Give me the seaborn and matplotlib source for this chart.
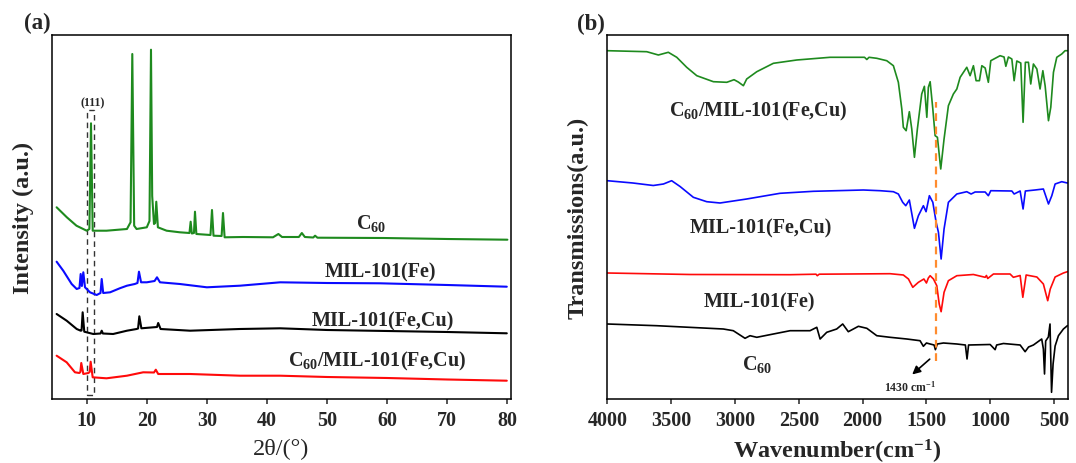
import matplotlib
matplotlib.use("Agg")
import matplotlib.pyplot as plt
import seaborn as sns
import pandas as pd
from matplotlib.patches import Rectangle

# ---------------- XRD data (panel a): 2theta, offset intensity ----------------
xrd_c60_x = [5.0, 6.7, 8.3, 10.0, 10.45, 10.72, 11.0, 13.3, 16.7, 17.3, 17.59, 17.9, 18.3, 20.0,
             20.45, 20.70, 20.9, 21.2, 21.4, 21.58, 21.85, 23.3, 25.5, 27.1, 27.3, 27.5, 27.85,
             28.02, 28.25, 30.6, 30.85, 31.1, 32.45, 32.68, 32.95, 36.0, 41.0, 41.9, 42.5, 45.3,
             45.8, 46.3, 47.7, 48.0, 48.4, 59.4, 70.0, 80.0]
xrd_c60_y = [191.7, 181.7, 173.3, 168.3, 170, 275.7, 168.3, 168.3, 170, 176.7, 345, 173.3, 170,
             171.7, 178, 349.3, 203, 175, 176, 197.3, 171.7, 168.3, 166.7, 166, 177.3, 165.5, 166,
             187.3, 165, 164, 189, 163.3, 163, 186, 161.7, 162, 161.7, 165, 162, 162, 166, 162,
             161.5, 163.3, 161.3, 161, 160, 159.3]

xrd_fe_x = [5.0, 6.1, 7.5, 8.34, 8.8, 9.0, 9.2, 9.44, 9.72, 10.55, 11.66, 12.3, 12.5, 12.75, 13.9,
            15.5, 16.7, 18.0, 18.45, 18.7, 19.05, 20.0, 21.3, 21.7, 22.2, 25.5, 30.0, 35.5, 42.2,
            50.0, 58.8, 70.0, 79.9]
xrd_fe_y = [137.3, 128.3, 115, 110, 111, 125, 113, 126.7, 111.7, 106.7, 104, 106, 120, 106, 106.7,
            110.7, 113.3, 115, 116, 127.3, 116.7, 116.7, 118, 121.7, 116.7, 115, 111.7, 113.3,
            116.7, 116, 115.7, 114, 112.3]

xrd_fecu_x = [5.0, 6.67, 8.34, 9.0, 9.15, 9.33, 9.6, 11.1, 12.3, 12.5, 12.7, 14.4, 16.7, 18.3,
              18.55, 18.76, 19.1, 21.1, 21.7, 21.9, 22.3, 27.2, 35.5, 42.2, 50.0, 60.0, 70.0, 79.9]
xrd_fecu_y = [85, 78.3, 70, 68.3, 68.5, 86.7, 67.3, 65, 65.5, 68.3, 65.5, 65, 68.3, 70, 70.5, 82.7,
              70.7, 71.7, 72, 76, 70, 68.3, 70, 70.7, 69, 68, 67, 65.7]

xrd_comp_x = [5.0, 6.67, 8.05, 8.78, 8.95, 9.1, 9.44, 10.28, 10.5, 10.66, 11.0, 13.3, 16.7, 19.4,
              21.2, 21.5, 21.9, 27.2, 35.5, 42.2, 50.0, 60.0, 70.0, 79.9]
xrd_comp_y = [43.3, 36.7, 26.7, 26, 27, 36, 25, 26, 27, 37.3, 21.7, 20.7, 23.3, 26.7, 26.5, 29.3,
              25, 25, 23.3, 23.3, 22, 21, 19.5, 18.3]

xrd_names = ["C$_{\\mathrm{60}}$", "MIL-101(Fe)", "MIL-101(Fe,Cu)",
             "C$_{\\mathrm{60}}$/MIL-101(Fe,Cu)"]
xrd_label_x = [57.3, 58.86, 59.3, 58.34]
xrd_label_y = [170.7, 122.7, 73.3, 33.3]

# ---------------- FTIR data (panel b): wavenumber, offset transmission ----------------
ir_comp_x = [4000, 3691, 3600, 3522, 3456, 3378, 3299, 3169, 3064, 3007, 2974, 2934, 2908, 2829,
             2699, 2516, 2255, 1985, 1967, 1950, 1889, 1811, 1759, 1720, 1693, 1681, 1659, 1634,
             1615, 1594, 1571, 1537, 1516, 1497, 1485, 1471, 1450, 1432, 1414, 1388, 1362, 1328,
             1289, 1262, 1236, 1184, 1158, 1132, 1111, 1085, 1066, 1040, 1015, 996, 923, 892, 878,
             858, 831, 813, 792, 761, 743, 725, 701, 683, 662, 635, 610, 588, 570, 544, 526, 505,
             479, 440, 414, 396]
ir_comp_y = [348.3, 347.3, 344, 346.7, 341.7, 331.7, 323.3, 317.3, 316.7, 319.3, 317, 313.3, 320,
             327.3, 335.7, 339, 341.7, 341.7, 339.5, 341.7, 340.7, 338.3, 333.3, 316.7, 290, 271.7,
             268.3, 287.3, 270, 241.7, 270, 305, 312.7, 281.7, 311.7, 317.3, 290, 263.3, 261.7,
             230, 260, 293.3, 305, 310, 321.7, 331.7, 323.3, 333.3, 318.3, 318.3, 333.3, 331,
             316.7, 338.3, 343.3, 342, 332.7, 342, 340, 318.3, 338, 336, 276.7, 336.7, 336.7, 315,
             335, 330, 310, 328.3, 313, 278.3, 291.7, 326.7, 341.7, 345, 348.3, 348.3]

ir_fecu_x = [4000, 3800, 3640, 3560, 3496, 3430, 3326, 3221, 3117, 2908, 2647, 2386, 1994, 1863,
             1759, 1720, 1686, 1662, 1634, 1594, 1563, 1524, 1503, 1477, 1450, 1424, 1406, 1385,
             1362, 1328, 1262, 1184, 1150, 1119, 1040, 1015, 996, 831, 813, 766, 743, 725, 650,
             584, 544, 518, 492, 440, 396]
ir_fecu_y = [218.3, 216, 213.5, 215, 218.3, 212.5, 201.7, 197.3, 196, 200, 205.7, 207.7, 209,
             208.3, 207.3, 205, 196.7, 193.3, 199, 170.7, 183.3, 193.3, 187.3, 203.3, 196.7,
             176.7, 166.7, 140, 170, 196.7, 205, 207.3, 205, 207, 207, 203.3, 208.3, 208, 205,
             208, 190, 208, 209, 210, 195, 203.3, 215, 217.3, 216]

ir_fe_x = [4000, 3352, 2568, 2365, 2355, 2340, 1785, 1681, 1641, 1607, 1563, 1520, 1500, 1485,
           1471, 1445, 1419, 1400, 1385, 1362, 1328, 1262, 1132, 1040, 1030, 1020, 975, 845, 819,
           766, 745, 719, 635, 584, 550, 530, 492, 427, 396]
ir_fe_y = [126, 124.5, 124.3, 124.8, 123.3, 124.8, 125.3, 124, 120, 111.7, 116.7, 120, 116, 121,
           123.3, 120, 113.3, 95, 87.3, 106.7, 118.3, 123.3, 124.5, 121.7, 123.5, 120.5, 125,
           125, 121.7, 123.5, 101.7, 124, 122, 115, 98.3, 110, 122, 126, 127.3]

ir_c60_x = [4000, 3613, 3091, 3013, 2921, 2882, 2829, 2699, 2568, 2412, 2359, 2333, 2281, 2203,
            2156, 2112, 2033, 1967, 1889, 1785, 1654, 1550, 1524, 1500, 1471, 1440, 1430, 1415,
            1367, 1262, 1195, 1182, 1170, 1001, 962, 950, 897, 766, 727, 700, 662, 597, 584, 575,
            566, 545, 532, 520, 508, 492, 466, 427, 396]
ir_c60_y = [75, 73.3, 70, 68.3, 60.7, 63.3, 61.7, 65, 68.3, 68.3, 71.7, 60, 66.7, 70, 75, 67.3,
            72.7, 70.7, 63.3, 61.7, 60, 58.3, 52.7, 56, 55, 54, 49.3, 55, 56, 55, 54, 40, 54, 54.5,
            49.3, 54, 55.5, 54, 47.3, 52, 54, 60, 50, 25, 58, 62, 75, 6.7, 35, 53, 63.3, 70, 73.3]

ir_names = ["C$_{\\mathrm{60}}$/MIL-101(Fe,Cu)", "MIL-101(Fe,Cu)", "MIL-101(Fe)", "C$_{\\mathrm{60}}$"]
ir_label_x = [2814, 2800, 2810, 2829]
ir_label_y = [283.3, 166.7, 92.3, 30]

xrd_ticks = [10, 20, 30, 40, 50, 60, 70, 80]
ir_ticks = [4000, 3500, 3000, 2500, 2000, 1500, 1000, 500]
marker_wavenumber = 1425
marker_label = "1430 cm$^{\\mathrm{-1}}$"

GREEN, BLUE, RED, BLACK = "#1E8A1E", "#0A0AFF", "#FF0A0A", "#000000"

# ---------------- styling ----------------
sns.set_theme(style="ticks")
plt.rcParams.update({
    "font.family": ["Liberation Serif", "DejaVu Serif"],
    "font.weight": "bold",
    "axes.labelweight": "bold",
    "mathtext.fontset": "custom",
    "mathtext.rm": "Liberation Serif:bold",
    "mathtext.bf": "Liberation Serif:bold",
    "mathtext.it": "Liberation Serif:italic:bold",
    "axes.linewidth": 1.1,
    "axes.edgecolor": "black",
})

fig = plt.figure(figsize=(10.76, 4.64), dpi=100)
axL = fig.add_axes([51.7 / 1076, 1 - 400 / 464, (511 - 51.7) / 1076, 364 / 464])
axR = fig.add_axes([607.3 / 1076, 1 - 400 / 464, (1067.5 - 607.3) / 1076, 364 / 464])


def draw(ax, xs, ys, color, lw):
    df = pd.DataFrame({"x": xs, "y": ys})
    sns.lineplot(data=df, x="x", y="y", ax=ax, color=color, lw=lw,
                 estimator=None, sort=False)


# panel a
for xs, ys, c in [(xrd_c60_x, xrd_c60_y, GREEN), (xrd_fe_x, xrd_fe_y, BLUE),
                  (xrd_fecu_x, xrd_fecu_y, BLACK), (xrd_comp_x, xrd_comp_y, RED)]:
    draw(axL, xs, ys, c, 1.5)
for name, lx, ly in zip(xrd_names, xrd_label_x, xrd_label_y):
    axL.text(lx, ly, name, ha="center", va="baseline", fontsize=14.5, fontweight="bold")
axL.add_patch(Rectangle((10.0, 4.3), 1.2, 284.7, fill=False, edgecolor="#333333",
                        lw=1.0, ls=(0, (4, 3))))
axL.text(11.0, 296.7, "(111)", ha="center", va="center", fontsize=8.5, fontweight="bold")
axL.set_xlim(4.18, 80.6)
axL.set_ylim(0, 364)
axL.set_xticks(xrd_ticks, labels=[str(t) for t in xrd_ticks], fontsize=14.5, fontweight="bold")
axL.set_yticks([])
axL.set_xlabel("2θ/(°)", fontsize=17.5, fontweight="normal", va="baseline")
axL.xaxis.set_label_coords(0.5, -0.151)
axL.set_ylabel("Intensity (a.u.)", fontsize=17.5, fontweight="bold", va="center")
axL.yaxis.set_label_coords(-0.0625, 0.5)

# panel b
for xs, ys, c in [(ir_comp_x, ir_comp_y, GREEN), (ir_fecu_x, ir_fecu_y, BLUE),
                  (ir_fe_x, ir_fe_y, RED), (ir_c60_x, ir_c60_y, BLACK)]:
    draw(axR, xs, ys, c, 1.2)
for name, lx, ly in zip(ir_names, ir_label_x, ir_label_y):
    axR.text(lx, ly, name, ha="center", va="baseline", fontsize=14.5, fontweight="bold")
axR.plot([marker_wavenumber, marker_wavenumber], [38, 297], color="#FF8C2E", lw=1.6,
         ls=(0, (3.5, 2.5)))
axR.annotate("", xy=(1628, 22.7), xytext=(1458, 41.7),
             arrowprops=dict(arrowstyle="-|>", color="black", lw=1.2, mutation_scale=12))
axR.text(1628, 12.3, marker_label, ha="center", va="center", fontsize=8.5, fontweight="bold")
axR.set_xlim(4000, 395)
axR.set_ylim(0, 364)
axR.set_xticks(ir_ticks, labels=[str(t) for t in ir_ticks], fontsize=14.5, fontweight="bold")
axR.set_yticks([])
axR.set_xlabel("Wavenumber(cm$^{\\mathrm{-1}}$)", fontsize=17.5, fontweight="bold", va="baseline")
axR.xaxis.set_label_coords(0.5, -0.160)
axR.set_ylabel("Transmissions(a.u.)", fontsize=17.5, fontweight="bold", va="center")
axR.yaxis.set_label_coords(-0.0637, 0.5)

for ax in (axL, axR):
    ax.tick_params(axis="x", direction="out", length=3.6, width=1.1, pad=4.5,
                   top=False, bottom=True)
    for sp in ax.spines.values():
        sp.set_visible(True)
        sp.set_linewidth(1.1)
        sp.set_color("black")

fig.text(37 / 1076, 1 - 23.5 / 464, "(a)", ha="center", va="center", fontsize=16.5, fontweight="bold")
fig.text(591 / 1076, 1 - 24.5 / 464, "(b)", ha="center", va="center", fontsize=16.5, fontweight="bold")

fig.savefig("out.png", dpi=100)
